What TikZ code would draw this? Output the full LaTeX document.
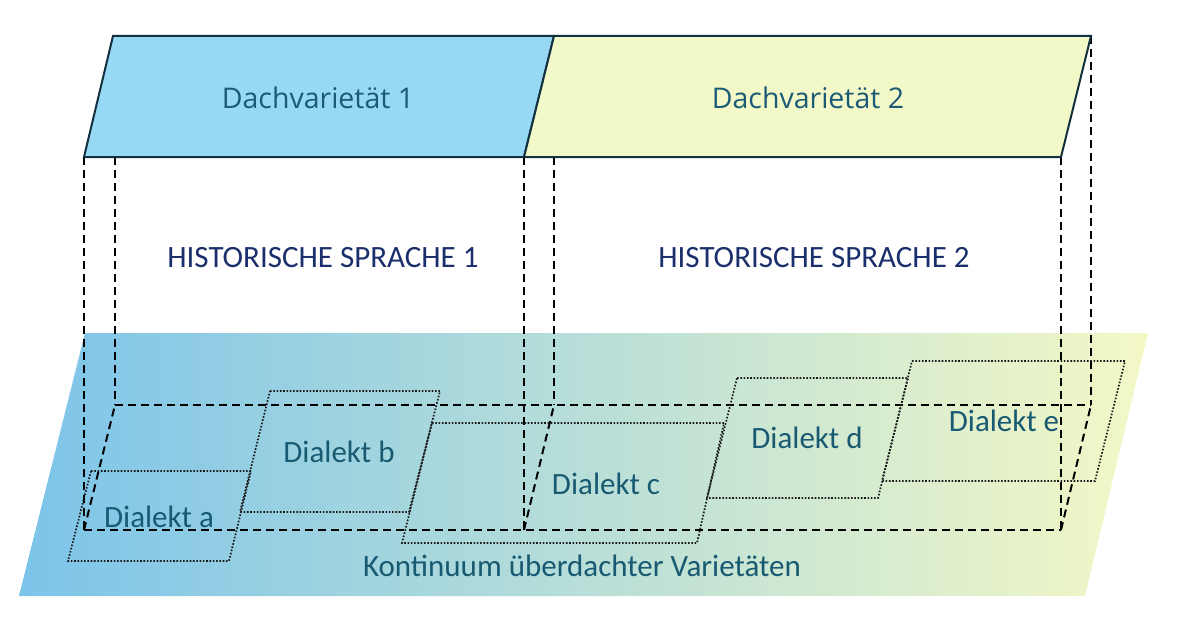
\documentclass[tikz,border=0pt]{standalone}
\usepackage{fontspec}
\setmainfont{Carlito}
\newfontfamily\dachfont{Open Sans}
\definecolor{gradL}{HTML}{7CC4EA}
\definecolor{gradR}{HTML}{F4F8C6}
\definecolor{dachA}{HTML}{97D9F5}
\definecolor{dachB}{HTML}{F3F8C9}
\definecolor{edge}{HTML}{13303F}
\definecolor{dachtext}{HTML}{1B5C74}
\definecolor{histtext}{HTML}{1A2F6B}
\definecolor{dialtext}{HTML}{185A72}
\begin{document}
\begin{tikzpicture}[x=1pt,y=-1pt,
  dashln/.style={black, line width=2pt, dash pattern=on 8pt off 5pt},
  dotln/.style={black!90, line width=1.7pt, dash pattern=on 1.6pt off 1.7pt},
  dachbox/.style={draw=edge, line width=2pt, line join=miter},
  dachlbl/.style={font=\dachfont\fontsize{28.5}{33}\selectfont, text=dachtext},
  histlbl/.style={font=\fontsize{31}{36}\selectfont, text=histtext},
  diallbl/.style={font=\fontsize{31}{36}\selectfont, text=dialtext}]
\useasboundingbox (0,0) rectangle (1179,626);
% continuum plane
\shade[left color=gradL, right color=gradR] (85,333) -- (1148,333) -- (1085,596) -- (19,596) -- cycle;
% dashed projection lines
\draw[dashln] (84,157) -- (84,530);
\draw[dashln] (115,157) -- (115,405);
\draw[dashln] (524,157) -- (524,530);
\draw[dashln] (554,157) -- (554,405);
\draw[dashln] (1061,157) -- (1061,530);
\draw[dashln] (1091,36) -- (1091,405);
\draw[dashln] (115,405) -- (1091,405);
\draw[dashln] (84,530) -- (1061,530);
\draw[dashln] (84,530) -- (115,405);
\draw[dashln] (524,530) -- (554,405);
\draw[dashln] (1061,530) -- (1091,405);
% dialect areas
\draw[dotln] (91,471) -- (251,471) -- (229,561) -- (68,561) -- cycle;
\draw[dotln] (270,391) -- (440,391) -- (409,512) -- (240,512) -- cycle;
\draw[dotln] (432,423) -- (724,423) -- (697,543) -- (402,543) -- cycle;
\draw[dotln] (737,378) -- (908,378) -- (878,498) -- (707,498) -- cycle;
\draw[dotln] (912,361) -- (1125,361) -- (1095,481) -- (882,481) -- cycle;
% roof varieties
\draw[dachbox, fill=dachA] (113,36) -- (554,36) -- (524,157) -- (84,157) -- cycle;
\draw[dachbox, fill=dachB] (554,36) -- (1091,36) -- (1061,157) -- (524,157) -- cycle;
% labels
\node[dachlbl] (d1) at (318,98) {Dachvarietät 1};
\node[dachlbl] (d2) at (808,98) {Dachvarietät 2};
\node[histlbl] (h1) at (323,258) {HISTORISCHE SPRACHE 1};
\node[histlbl] (h2) at (814,258) {HISTORISCHE SPRACHE 2};
\node[diallbl] (la) at (159,517) {Dialekt a};
\node[diallbl] (lb) at (339,452) {Dialekt b};
\node[diallbl] (lc) at (606,484) {Dialekt c};
\node[diallbl] (ld) at (807,438) {Dialekt d};
\node[diallbl] (le) at (1004,421) {Dialekt e};
\node[diallbl] (k) at (582,566) {Kontinuum überdachter Varietäten};
\end{tikzpicture}
\end{document}
